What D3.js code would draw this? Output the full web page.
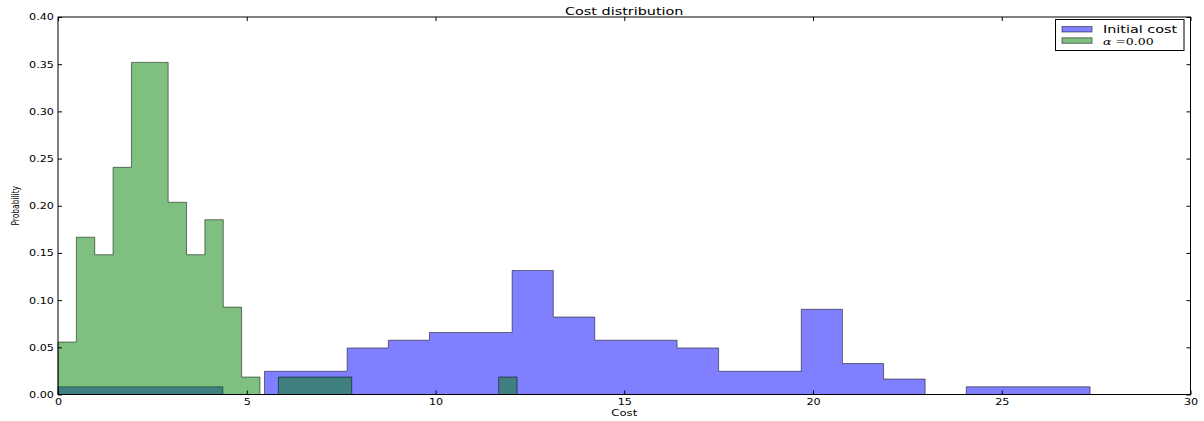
<!DOCTYPE html>
<html>
<head>
<meta charset="utf-8">
<script src="https://cdn.jsdelivr.net/npm/d3@7"></script>
<style>
  html, body { margin: 0; padding: 0; background: #fff; }
  svg { display: block; font-family: "DejaVu Sans", sans-serif; }
</style>
</head>
<body>
<svg id="chart" width="1204" height="421"></svg>
<script>
// Histogram of the initial cost (25 equal bins)
const initialEdges = [0, 1.09, 2.19, 3.28, 4.37, 5.47, 6.56, 7.66, 8.75, 9.84, 10.94, 12.03, 13.12,
  14.22, 15.31, 16.40, 17.50, 18.59, 19.69, 20.78, 21.87, 22.97, 24.06, 25.15, 26.25, 27.34];
const initialProb = [0.0082, 0.0082, 0.0082, 0.0082, 0, 0.0246, 0.0246, 0.0493, 0.0575, 0.0657, 0.0657,
  0.1314, 0.0821, 0.0575, 0.0575, 0.0493, 0.0246, 0.0246, 0.0903, 0.0328, 0.0164, 0, 0.0082, 0.0082, 0.0082];

// Histogram of the cost for alpha = 0.00 (25 equal bins)
const alphaEdges = [0, 0.486, 0.973, 1.459, 1.946, 2.432, 2.918, 3.405, 3.891, 4.378, 4.864, 5.35,
  5.837, 6.323, 6.81, 7.296, 7.782, 8.269, 8.755, 9.242, 9.728, 10.214, 10.701, 11.187, 11.674, 12.16];
const alphaProb = [0.0556, 0.1667, 0.1481, 0.2407, 0.3519, 0.3519, 0.2037, 0.1481, 0.1852, 0.0926,
  0.0185, 0, 0.0185, 0.0185, 0.0185, 0.0185, 0, 0, 0, 0, 0, 0, 0, 0, 0.0185];

const xTicks = [0, 5, 10, 15, 20, 25, 30];
const yTicks = [0, 0.05, 0.10, 0.15, 0.20, 0.25, 0.30, 0.35, 0.40];
const seriesNames = ["Initial cost", "α", " =0.00"];

const svg = d3.select("#chart");
const plotLeft = 58, plotRight = 1190.5, plotTop = 17, plotBottom = 394.5;
const x = d3.scaleLinear().domain([0, 30]).range([plotLeft, plotRight]);
const y = d3.scaleLinear().domain([0, 0.4]).range([plotBottom, plotTop]);
const squash = "scale(1,0.7)";

// closed step outline of a histogram
function stepPoints(edges, vals) {
  const pts = [[edges[0], 0]];
  vals.forEach((v, i) => { pts.push([edges[i], v]); pts.push([edges[i + 1], v]); });
  pts.push([edges[edges.length - 1], 0]);
  return pts;
}
const line = d3.line().x(d => x(d[0])).y(d => y(d[1]));

const hists = [
  { edges: initialEdges, vals: initialProb, color: "#0000ff" },
  { edges: alphaEdges, vals: alphaProb, color: "#008000" }
];
svg.append("g").selectAll("path").data(hists).join("path")
  .attr("d", d => line(stepPoints(d.edges, d.vals)) + "Z")
  .attr("fill", d => d.color).attr("fill-opacity", 0.5)
  .attr("stroke", "#000").attr("stroke-opacity", 0.5).attr("stroke-width", 1)
  .attr("stroke-linejoin", "miter");

// axes with inward ticks on all four sides
const fmtY = d3.format(".2f");
const gB = svg.append("g").attr("transform", `translate(0,${plotBottom})`)
  .call(d3.axisBottom(x).tickValues(xTicks).tickSizeInner(-4).tickSizeOuter(0).tickFormat(d3.format("d")));
const gT = svg.append("g").attr("transform", `translate(0,${plotTop})`)
  .call(d3.axisTop(x).tickValues(xTicks).tickSizeInner(-4).tickSizeOuter(0).tickFormat(""));
const gL = svg.append("g").attr("transform", `translate(${plotLeft},0)`)
  .call(d3.axisLeft(y).tickValues(yTicks).tickSizeInner(-4).tickSizeOuter(0).tickFormat(fmtY));
const gR = svg.append("g").attr("transform", `translate(${plotRight},0)`)
  .call(d3.axisRight(y).tickValues(yTicks).tickSizeInner(-4).tickSizeOuter(0).tickFormat(""));
[gB, gT, gL, gR].forEach(g => {
  g.select(".domain").remove();
  g.selectAll(".tick line").attr("stroke", "#000");
});
gB.selectAll(".tick text")
  .attr("y", null).attr("dy", null)
  .attr("transform", "translate(0,10.5) " + squash)
  .attr("font-size", 11.2).attr("font-family", "DejaVu Sans").attr("fill", "#000");
gL.selectAll(".tick text")
  .attr("x", null).attr("dy", null)
  .attr("transform", "translate(-4,2.9) " + squash)
  .attr("text-anchor", "end")
  .attr("font-size", 11.2).attr("font-family", "DejaVu Sans").attr("fill", "#000");

// frame
svg.append("rect").attr("x", plotLeft).attr("y", plotTop)
  .attr("width", plotRight - plotLeft).attr("height", plotBottom - plotTop)
  .attr("fill", "none").attr("stroke", "#000").attr("stroke-width", 1);

// title and axis labels
const midX = (plotLeft + plotRight) / 2;
svg.append("text").attr("transform", `translate(${midX},14.5) ${squash}`)
  .attr("text-anchor", "middle").attr("font-size", 14.4).text("Cost distribution");
svg.append("text").attr("transform", `translate(${midX},415.5) ${squash}`)
  .attr("text-anchor", "middle").attr("font-size", 11.7).text("Cost");
svg.append("text").attr("transform", `translate(19.2,${(plotTop + plotBottom) / 2}) rotate(-90) scale(0.7,1)`)
  .attr("text-anchor", "middle").attr("font-size", 10.7).text("Probability");

// legend
const lg = svg.append("g");
lg.append("rect").attr("x", 1055.5).attr("y", 19.5).attr("width", 128.5).attr("height", 31)
  .attr("fill", "#fff").attr("stroke", "#000").attr("stroke-width", 1);
hists.forEach((h, i) => {
  lg.append("rect").attr("x", 1062).attr("y", 26.5 + i * 11.3).attr("width", 30).attr("height", 5.5)
    .attr("fill", h.color).attr("fill-opacity", 0.5)
    .attr("stroke", "#000").attr("stroke-opacity", 0.5);
});
lg.append("text").attr("transform", `translate(1103,33.2) ${squash}`)
  .attr("font-size", 14.4).text(seriesNames[0]);
const t2 = lg.append("text").attr("transform", `translate(1103,44.6) ${squash}`)
  .attr("font-size", 12.5).attr("font-family", "DejaVu Serif");
t2.append("tspan").attr("font-style", "italic").text(seriesNames[1]);
t2.append("tspan").text(seriesNames[2]);
</script>
</body>
</html>
